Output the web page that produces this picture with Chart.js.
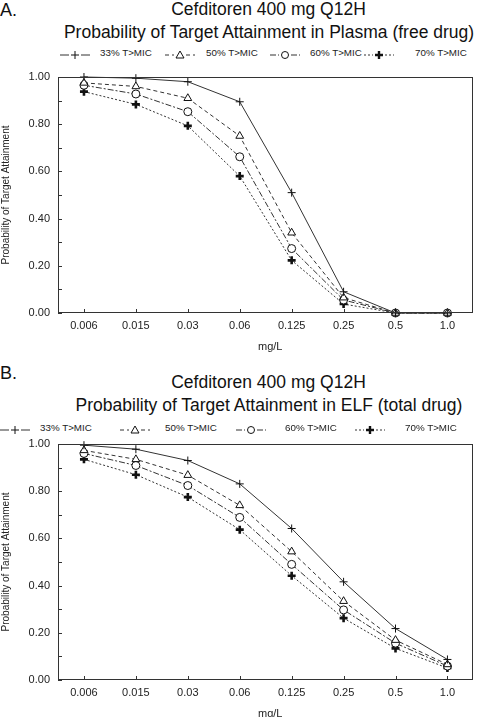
<!DOCTYPE html>
<html>
<head>
<meta charset="utf-8">
<script src="https://cdn.jsdelivr.net/npm/chart.js@4.4.1/dist/chart.umd.min.js"></script>
<style>
  html,body{margin:0;padding:0;background:#fff;}
  #wrap{position:relative;width:480px;height:717px;overflow:hidden;font-family:"Liberation Sans",Arial,sans-serif;color:#111;}
  .t{position:absolute;white-space:nowrap;line-height:20px;height:20px;}
  .big{font-size:17.5px;}
  .lbl{font-size:18px;}
  .leg{position:absolute;font-size:9.8px;line-height:12px;height:12px;white-space:nowrap;color:#222;}
  .sw{position:absolute;}
  canvas{position:absolute;left:0;}
  .xt{position:absolute;font-size:11px;line-height:14px;color:#222;}
</style>
</head>
<body>
<div id="wrap">
  <div class="t lbl" style="left:0;top:0px;">A.</div>
  <div class="t big" style="left:0;width:537px;text-align:center;top:-1px;">Cefditoren 400 mg Q12H</div>
  <div class="t big" style="left:58px;width:422px;text-align:center;top:22px;">Probability of Target Attainment in Plasma (free drug)</div>
  <div id="legA"></div>
  <canvas id="cA" width="480" height="300" style="top:60px;width:480px;height:300px;"></canvas>
  <div class="xt" style="left:258px;top:339px;">mg/L</div>

  <div class="t lbl" style="left:0;top:363px;">B.</div>
  <div class="t big" style="left:0;width:537px;text-align:center;top:372px;">Cefditoren 400 mg Q12H</div>
  <div class="t big" style="left:58px;width:422px;text-align:center;top:395px;">Probability of Target Attainment in ELF (total drug)</div>
  <div id="legB"></div>
  <canvas id="cB" width="480" height="300" style="top:427px;width:480px;height:300px;"></canvas>
  <div class="xt" style="left:258px;top:706px;">mg/L</div>
</div>
<script>
// ---- data ----
const categories = ['0.006', '0.015', '0.03', '0.06', '0.125', '0.25', '0.5', '1.0'];
const seriesNames = ['33% T>MIC', '50% T>MIC', '60% T>MIC', '70% T>MIC'];

const plasma33 = [1.00, 0.995, 0.98, 0.895, 0.51, 0.09, 0.00, 0.00];
const plasma50 = [0.975, 0.96, 0.91, 0.75, 0.34, 0.065, 0.00, 0.00];
const plasma60 = [0.965, 0.928, 0.853, 0.662, 0.273, 0.055, 0.00, 0.00];
const plasma70 = [0.938, 0.884, 0.793, 0.58, 0.223, 0.038, 0.00, 0.00];

const elf33 = [0.995, 0.978, 0.93, 0.831, 0.642, 0.416, 0.218, 0.087];
const elf50 = [0.973, 0.935, 0.868, 0.74, 0.544, 0.334, 0.169, 0.066];
const elf60 = [0.96, 0.909, 0.824, 0.689, 0.49, 0.297, 0.156, 0.059];
const elf70 = [0.935, 0.87, 0.775, 0.637, 0.442, 0.262, 0.134, 0.051];

const yAxisTitle = 'Probability of Target Attainment';

// ---- styles ----
const lineCol = '#333';
const styles = [
  {dash: [], pointStyle: 'cross', radius: 4, pbw: 1},
  {dash: [4, 3], pointStyle: 'triangle', radius: 4.5, pbw: 1},
  {dash: [6, 2, 2, 2], pointStyle: 'circle', radius: 4, pbw: 1},
  {dash: [2, 2], pointStyle: 'cross', radius: 4, pbw: 2.6}
];

function makeDatasets(arrs) {
  return arrs.map((d, i) => ({
    label: seriesNames[i],
    data: d,
    borderColor: lineCol,
    borderWidth: 1,
    borderDash: styles[i].dash,
    pointStyle: styles[i].pointStyle,
    pointRadius: styles[i].radius,
    pointBorderWidth: styles[i].pbw,
    pointBorderColor: '#111',
    pointBackgroundColor: '#fff',
    tension: 0,
    clip: false
  }));
}

const frameTicks = {
  id: 'frameTicks',
  afterDraw(chart) {
    const {ctx, chartArea: a, scales: {x, y}} = chart;
    ctx.save();
    ctx.strokeStyle = '#333';
    ctx.lineWidth = 1;
    ctx.setLineDash([]);
    ctx.strokeRect(Math.round(a.left) + 0.5, Math.round(a.top) + 0.5,
      Math.round(a.right - a.left) - 1, Math.round(a.bottom - a.top) - 1);
    ctx.beginPath();
    y.ticks.forEach(t => {
      const py = Math.round(y.getPixelForValue(t.value)) + 0.5;
      ctx.moveTo(a.left, py); ctx.lineTo(a.left + 4, py);
    });
    x.ticks.forEach((t, i) => {
      const px = Math.round(x.getPixelForTick(i)) + 0.5;
      ctx.moveTo(px, a.bottom); ctx.lineTo(px, a.bottom - 4);
    });
    ctx.stroke();
    ctx.restore();
  }
};

function makeChart(id, arrs) {
  return new Chart(document.getElementById(id), {
    type: 'line',
    data: {labels: categories, datasets: makeDatasets(arrs)},
    options: {
      responsive: false,
      animation: false,
      devicePixelRatio: 1,
      layout: {padding: {top: 17, right: 4, left: 0, bottom: 0}},
      plugins: {legend: {display: false}, tooltip: {enabled: false}, title: {display: false}},
      scales: {
        x: {
          offset: true,
          grid: {display: false, drawTicks: false},
          border: {display: false},
          ticks: {color: '#222', font: {family: 'Liberation Sans', size: 11}, padding: 6, maxRotation: 0, autoSkip: false},
          afterFit(s) { s.height = 47; }
        },
        y: {
          min: 0, max: 1,
          grid: {display: false, drawTicks: false},
          border: {display: false},
          ticks: {
            stepSize: 0.1, autoSkip: false, padding: 8, color: '#222',
            font: {family: 'Liberation Sans', size: 11},
            callback: v => (Math.round(v * 10) % 2 === 0 ? v.toFixed(2) : '')
          },
          title: {display: true, text: yAxisTitle, color: '#222', font: {family: 'Liberation Sans', size: 10}, padding: 0},
          afterFit(s) { s.width = 58; }
        }
      }
    },
    plugins: [frameTicks]
  });
}

makeChart('cA', [plasma33, plasma50, plasma60, plasma70]);
makeChart('cB', [elf33, elf50, elf60, elf70]);

// ---- legends (HTML, with SVG samples) ----
function sampleSVG(i) {
  const s = styles[i];
  const dash = s.dash.length ? `stroke-dasharray="${s.dash.join(',')}"` : '';
  let mk = '';
  const cx = 15, cy = 6;
  if (i === 0) mk = `<path d="M${cx-4} ${cy}H${cx+4}M${cx} ${cy-4}V${cy+4}" stroke="#111" stroke-width="1"/>`;
  if (i === 1) mk = `<path d="M${cx} ${cy-4}L${cx+4} ${cy+3}L${cx-4} ${cy+3}Z" stroke="#111" fill="#fff" stroke-width="1"/>`;
  if (i === 2) mk = `<circle cx="${cx}" cy="${cy}" r="3.5" stroke="#111" fill="#fff" stroke-width="1"/>`;
  if (i === 3) mk = `<path d="M${cx-4} ${cy}H${cx+4}M${cx} ${cy-4}V${cy+4}" stroke="#111" stroke-width="2.4"/>`;
  return `<svg width="30" height="12" viewBox="0 0 30 12">` +
    `<line x1="0" y1="6" x2="9" y2="6" stroke="#333" stroke-width="1" ${dash}/>` +
    `<line x1="21" y1="6" x2="30" y2="6" stroke="#333" stroke-width="1" ${dash}/>${mk}</svg>`;
}
function buildLegend(id, top, swX, txtX) {
  const el = document.getElementById(id);
  let html = '';
  for (let i = 0; i < 4; i++) {
    html += `<div class="sw" style="left:${swX[i]}px;top:${top}px;">${sampleSVG(i)}</div>`;
    html += `<div class="leg" style="left:${txtX[i]}px;top:${top}px;">${seriesNames[i].replace('>', '&gt;')}</div>`;
  }
  el.innerHTML = html;
}
buildLegend('legA', 47, [60, 165, 270, 364], [100, 206, 310, 415]);
buildLegend('legB', 422, [0, 120, 236, 355], [40, 165, 285, 405]);
</script>
</body>
</html>
